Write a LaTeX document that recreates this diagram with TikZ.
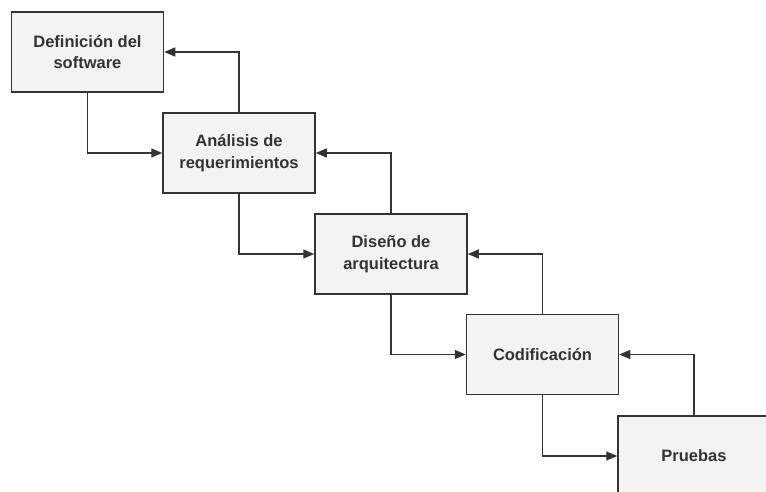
\documentclass[tikz,border=0pt]{standalone}
\usepackage{fontspec}
\setmainfont{Liberation Sans}
\usetikzlibrary{arrows.meta}
\definecolor{boxfill}{HTML}{F3F3F3}
\definecolor{ink}{HTML}{333333}
\begin{document}
\begin{tikzpicture}[x=1pt,y=-1pt,
  stage/.style={draw=ink, line width=1.5pt, fill=boxfill, text=ink,
    minimum width=152pt, minimum height=80pt, inner sep=0pt,
    align=center, font=\fontsize{16.5}{21.5}\selectfont\bfseries},
  flow/.style={draw=ink, line width=1.3pt,
    -{Triangle[length=11pt,width=9pt]}}]
  \useasboundingbox (0,0) rectangle (766,492);
  \clip (0,0) rectangle (766,492);
  % waterfall stages, each one step down and to the right
  \node[stage] (def) at (87.5,52)  {Definición del\\software};
  \node[stage] (ana) at (239,153)  {Análisis de\\requerimientos};
  \node[stage] (dis) at (391,254)  {Diseño de\\arquitectura};
  \node[stage] (cod) at (542.5,354.5) {Codificación};
  \node[stage] (pru) at (694,456)  {Pruebas};
  % forward flow into the next stage
  \draw[flow] (def.south) |- (ana.west);
  \draw[flow] (ana.south) |- (dis.west);
  \draw[flow] (dis.south) |- (cod.west);
  \draw[flow] (cod.south) |- (pru.west);
  % feedback to the previous stage
  \draw[flow] (ana.north) |- (def.east);
  \draw[flow] (dis.north) |- (ana.east);
  \draw[flow] (cod.north) |- (dis.east);
  \draw[flow] (pru.north) |- (cod.east);
\end{tikzpicture}
\end{document}
